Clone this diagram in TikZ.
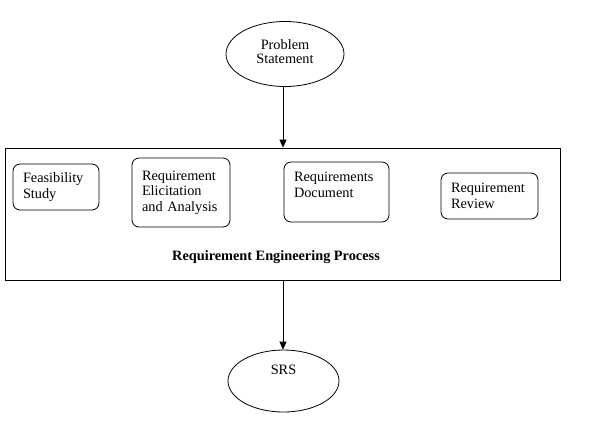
\documentclass[tikz,border=0pt]{standalone}
\usepackage{fontspec}
\setmainfont{Liberation Serif}
\usetikzlibrary{shapes.geometric}
\usetikzlibrary{arrows.meta}
\usetikzlibrary{calc}

\tikzset{
  oval/.style={draw, ellipse, inner sep=0pt, font=\fontsize{14.3}{14}\selectfont, align=center},
  stage/.style={draw, rounded corners=7pt, inner xsep=10pt, inner ysep=0pt, align=left,
                font=\fontsize{14.3}{15.5}\selectfont},
  flow/.style={-{Triangle[length=8pt,width=7pt]}}
}

\begin{document}
\begin{tikzpicture}[x=1pt,y=-1pt,line width=0.8pt]

      \useasboundingbox (0,0) rectangle (591,424);

      \node[oval, minimum width=118, minimum height=65, text depth=5] (ps) at (285,54) {Problem\\Statement};

      \node[draw, minimum width=555, minimum height=132, inner sep=0pt] (proc) at (283,214) {};

      \node[stage, text width=66, minimum height=46] (fs) at (56,187) {Feasibility\\Study};
      \node[stage, text width=78, minimum height=69] (rea) at (181,192.5) {Requirement\\Elicitation\\and Analysis};
      \node[stage, text width=85, minimum height=60, text depth=30] (rd) at (336.5,192) {Requirements\\Document};
      \node[stage, text width=77, minimum height=46] (rr) at (489.5,196) {Requirement\\Review};

      \node[font=\fontsize{14.3}{15}\selectfont\bfseries] (rep) at (276,257) {Requirement Engineering Process};

      \node[oval, minimum width=111, minimum height=62, text depth=22] (srs) at (283.5,381) {SRS};

      \draw[flow] (ps.south -| proc.north) -- (proc.north);
      \draw[flow] (proc.south) -- (srs.north -| proc.south);
    \end{tikzpicture}
\end{document}
